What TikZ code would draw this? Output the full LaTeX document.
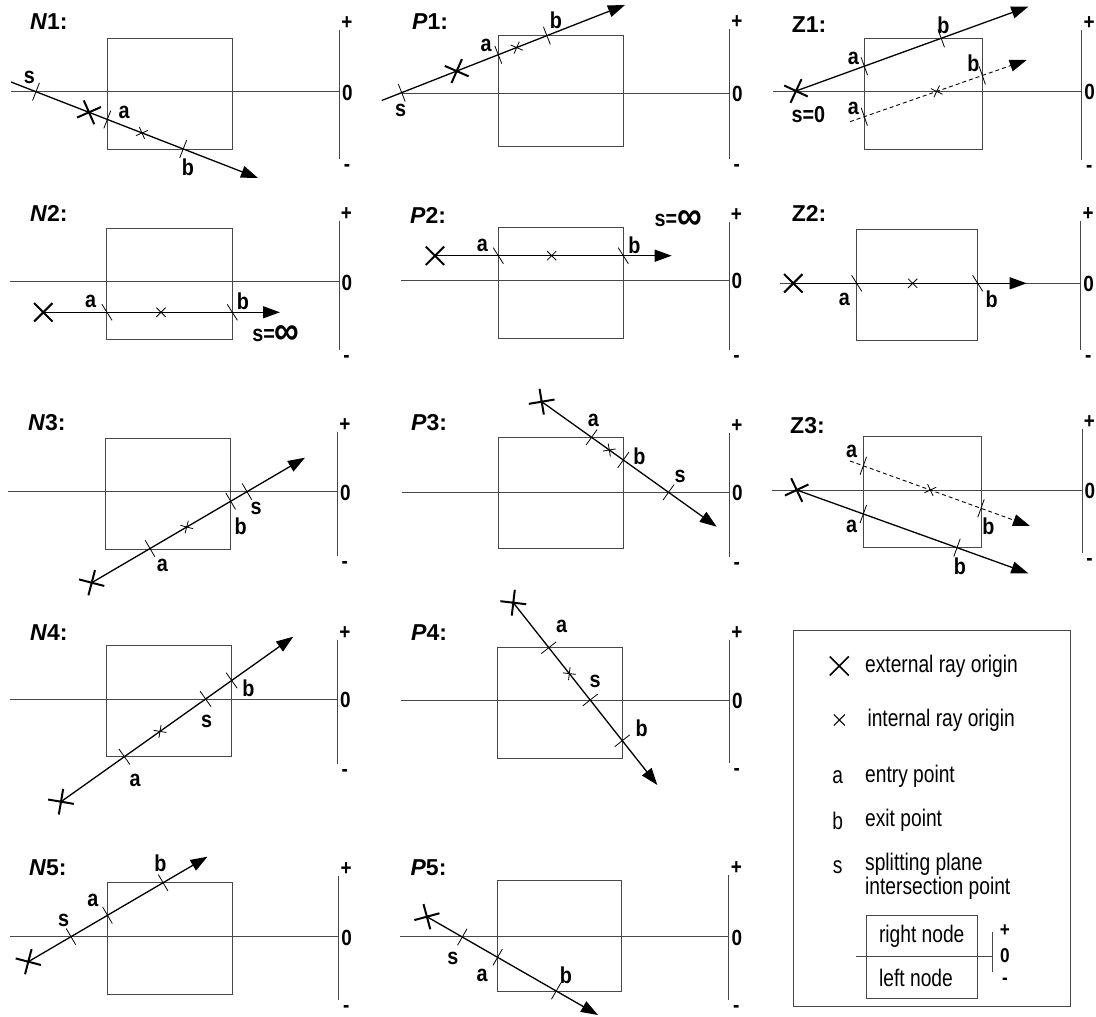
\documentclass[tikz,border=0pt]{standalone}
\usepackage{fontspec}
\setmainfont{Liberation Sans}
\newfontfamily\lblfont{Liberation Sans}[FakeStretch=0.86]
\newfontfamily\legfont{Liberation Sans}[FakeStretch=0.8]
\usetikzlibrary{arrows.meta}
\newcommand\mkX[3]{\draw[bigx,shift={(#1,#2)},rotate=#3] (-9.2pt,-9.2pt)--(9.2pt,9.2pt) (-9.2pt,9.2pt)--(9.2pt,-9.2pt);}
\newcommand\mkx[3]{\draw[smallx,shift={(#1,#2)},rotate=#3] (-4.6pt,-4.6pt)--(4.6pt,4.6pt) (-4.6pt,4.6pt)--(4.6pt,-4.6pt);}
\newcommand\mkt[3]{\draw[tickline,shift={(#1,#2)},rotate=#3] (-9.5pt,0)--(9.5pt,0);}
\newcommand\mkhl[3]{\draw[frame] (#1,#2) -- (#3,#2);}
\newcommand\mkbox[4]{\draw[frame] (#1,#2) rectangle (#3,#4);}
\newcommand\mkax[5]{%
  \draw[frame] (#2,#3) -- (#2,#4);
  \node[sgn] (#1p) at (#2+7.5,#3-7) {+};
  \node[sgn] (#1z) at (#2+8,#5+1) {0};
  \node[sgn] (#1m) at (#2+7.5,#4+9) {-};}
\newcommand\infsym{\raisebox{-2.5pt}{\scalebox{1.75}{∞}}}
\begin{document}
\begin{tikzpicture}[x=1pt,y=-1pt,
  frame/.style={draw=black!72,line width=1pt},
  ray/.style={line width=1.3pt,-{Triangle[length=17pt,width=12pt]}},
  dray/.style={line width=0.9pt,dash pattern=on 4pt off 3pt,-{Triangle[length=17pt,width=12pt]}},
  bigx/.style={line width=2pt},
  smallx/.style={line width=0.8pt},
  tickline/.style={line width=0.8pt},
  lbl/.style={font={\lblfont\fontsize{23}{24}\selectfont\bfseries},inner sep=0pt},
  sgn/.style={font={\lblfont\fontsize{22}{24}\selectfont\bfseries},inner sep=0pt},
  lsgn/.style={font={\lblfont\fontsize{20}{20}\selectfont\bfseries},inner sep=0pt},
  ttl/.style={font={\fontsize{23}{24}\selectfont\bfseries},inner sep=0pt,anchor=west},
  leg/.style={font={\legfont\fontsize{24}{24}\selectfont},inner sep=0pt,anchor=west},
  legl/.style={font={\legfont\fontsize{24}{24}\selectfont},inner sep=0pt}]
\useasboundingbox (0,0) rectangle (1096,1017);

% ---------------- Row 1 ----------------
% N1
\node[ttl] (tN1) at (30,21.5) {\textit{N}1:};
\mkhl{11}{91.7}{339.5}
\mkbox{107.3}{38.3}{232.7}{149.3}
\mkax{aN1}{339.5}{30}{159}{91.7}
\draw[ray] (11,82) -- (258,178);
\mkt{36}{91.7}{68.7}
\mkX{89}{112.3}{-21.3}
\mkt{107.3}{119.5}{68.7}
\mkx{142}{133}{-21.3}
\mkt{183.2}{149}{68.7}
\node[lbl] (lN1s) at (29.3,77.3) {s};
\node[lbl] (lN1a) at (124,112) {a};
\node[lbl] (lN1b) at (188,167) {b};
% P1
\node[ttl] (tP1) at (412,21.7) {\textit{P}1:};
\mkhl{401.7}{93}{729.3}
\mkbox{498.3}{35.7}{623.3}{146.7}
\mkax{aP1}{729.3}{29}{159}{93}
\draw[ray] (381.7,100.5) -- (625,5);
\mkt{401.7}{92.7}{-68.6}
\mkX{456.7}{71.1}{21.4}
\mkt{498.3}{54.8}{-68.6}
\mkx{516.7}{47.6}{21.4}
\mkt{546.9}{35.7}{-68.6}
\node[lbl] (lP1s) at (400.7,110) {s};
\node[lbl] (lP1a) at (486,45) {a};
\node[lbl] (lP1b) at (556,20) {b};
% Z1
\node[ttl] (tZ1) at (791.7,25) {Z1:};
\mkhl{773}{91}{1081.7}
\mkbox{864.3}{38.3}{982.3}{149.3}
\mkax{aZ1}{1081.7}{30}{160}{91}
\draw[ray] (796,91) -- (1028.3,6.7);
\mkX{796}{91}{19.95}
\mkt{864.3}{66.2}{-70}
\mkt{941.2}{38.3}{-70}
\draw[dray] (850,121.7) -- (1026.7,60);
\mkt{864.3}{116.7}{-70.8}
\mkx{936.7}{91.4}{19.2}
\mkt{982.3}{75.5}{-70.8}
\node[lbl] (lZ1s) at (808.3,115) {s=0};
\node[lbl] (lZ1a) at (853.3,58.3) {a};
\node[lbl] (lZ1b) at (943.3,25) {b};
\node[lbl] (lZ1a2) at (853.3,108.3) {a};
\node[lbl] (lZ1b2) at (973.3,63.3) {b};

% ---------------- Row 2 ----------------
% N2
\node[ttl] (tN2) at (30,213) {\textit{N}2:};
\mkhl{10}{281.7}{339}
\mkbox{106.7}{228.3}{232.3}{339}
\mkax{aN2}{339}{220.7}{350}{281.7}
\draw[ray] (43.3,312.3) -- (280,312.3);
\mkX{43.3}{312.3}{0}
\mkt{107}{312.3}{-57.6}
\mkx{161}{312.3}{0}
\mkt{232.3}{312.3}{-57.6}
\node[lbl] (lN2a) at (90.7,301.7) {a};
\node[lbl] (lN2b) at (243,301.7) {b};
\node[lbl] (lN2s) at (276,335) {s=\infsym};
% P2
\node[ttl] (tP2) at (410,215) {\textit{P}2:};
\mkhl{401}{280}{729}
\mkbox{498.3}{227.3}{623.3}{338.3}
\mkax{aP2}{729}{221.7}{350}{280}
\draw[ray] (435,255.7) -- (671.7,255.7);
\mkX{435}{255.7}{0}
\mkt{498.3}{255.7}{-57.6}
\mkx{551.7}{255.7}{0}
\mkt{623.3}{255.7}{-57.6}
\node[lbl] (lP2a) at (482.3,245) {a};
\node[lbl] (lP2b) at (634.3,245) {b};
\node[lbl] (lP2s) at (678.3,220) {s=\infsym};
% Z2
\node[ttl] (tZ2) at (791.7,213.3) {Z2:};
\mkhl{780}{283.3}{1080.7}
\mkbox{856.7}{229.3}{977.7}{340.7}
\mkax{aZ2}{1080.7}{220.7}{350}{283.3}
\draw[ray] (793.3,283.3) -- (1026.7,283.3);
\mkX{793.3}{283.3}{0}
\mkt{856.7}{283.3}{-57.6}
\mkx{912.7}{283.3}{0}
\mkt{977.7}{283.3}{-57.6}
\node[lbl] (lZ2a) at (844.3,299.3) {a};
\node[lbl] (lZ2b) at (991.7,299.3) {b};

% ---------------- Row 3 ----------------
% N3
\node[ttl] (tN3) at (28,423) {\textit{N}3:};
\mkhl{8.3}{491.7}{337.3}
\mkbox{105.7}{438.3}{230.7}{549.3}
\mkax{aN3}{337.3}{432.3}{556}{491.7}
\draw[ray] (91.7,582.7) -- (305,457.7);
\mkX{91.7}{582.7}{30.4}
\mkt{150}{548.5}{-59.6}
\mkx{186.7}{527}{30.4}
\mkt{230.7}{501.2}{-59.6}
\mkt{247}{491.7}{-59.6}
\node[lbl] (lN3a) at (162.3,565) {a};
\node[lbl] (lN3b) at (240.7,526.7) {b};
\node[lbl] (lN3s) at (256,508.3) {s};
% P3
\node[ttl] (tP3) at (411,423) {\textit{P}3:};
\mkhl{401.7}{492.3}{729.3}
\mkbox{498.3}{437.3}{623.3}{548.3}
\mkax{aP3}{729.3}{433.3}{556.7}{492.3}
\draw[ray] (541.7,401.7) -- (716.7,526.7);
\mkX{541.7}{401.7}{-35.5}
\mkt{591.6}{437.3}{54.5}
\mkx{609.3}{450}{-35.5}
\mkt{623.3}{460}{54.5}
\mkt{668.6}{492.3}{54.5}
\node[lbl] (lP3a) at (593.3,420.7) {a};
\node[lbl] (lP3b) at (639.3,456.7) {b};
\node[lbl] (lP3s) at (680,476) {s};
% Z3
\node[ttl] (tZ3) at (790,426) {Z3:};
\mkhl{771.7}{490}{1082}
\mkbox{863.3}{436.7}{981}{547.7}
\mkax{aZ3}{1082}{429.3}{553.3}{490}
\draw[ray] (796.7,490) -- (1028.3,573.3);
\mkX{796.7}{490}{-19.8}
\mkt{863.3}{514}{70.2}
\mkt{957}{547.7}{70.2}
\draw[dray] (850,461) -- (1030,526);
\mkt{863.3}{465.8}{70.1}
\mkx{930.3}{490}{-19.9}
\mkt{981}{508.3}{70.1}
\node[lbl] (lZ3a) at (851.7,526.7) {a};
\node[lbl] (lZ3b) at (960,566.7) {b};
\node[lbl] (lZ3a2) at (851.7,451.7) {a};
\node[lbl] (lZ3b2) at (988.3,526.7) {b};

% ---------------- Row 4 ----------------
% N4
\node[ttl] (tN4) at (30,633) {\textit{N}4:};
\mkhl{10}{699}{337.3}
\mkbox{106.7}{645.7}{231.7}{756.7}
\mkax{aN4}{337.3}{640}{764}{699}
\draw[ray] (61,801.7) -- (293.3,636.7);
\mkX{61}{801.7}{35.4}
\mkt{124.4}{756.7}{-54.6}
\mkx{160}{731.4}{35.4}
\mkt{205.6}{699}{-54.6}
\mkt{231.7}{680.5}{-54.6}
\node[lbl] (lN4a) at (135,780) {a};
\node[lbl] (lN4s) at (206.7,721.7) {s};
\node[lbl] (lN4b) at (248.3,688.3) {b};
% P4
\node[ttl] (tP4) at (411,633) {\textit{P}4:};
\mkhl{400.7}{700}{729.3}
\mkbox{497.7}{647.7}{622.3}{758.3}
\mkax{aP4}{729.3}{640}{762.7}{700}
\draw[ray] (513.3,602.7) -- (657.3,785);
\mkX{513.3}{602.7}{-51.7}
\mkt{548.8}{647.7}{38.3}
\mkx{569.3}{673.6}{-51.7}
\mkt{590.2}{700}{38.3}
\mkt{622.3}{740.7}{38.3}
\node[lbl] (lP4a) at (561.7,626.7) {a};
\node[lbl] (lP4s) at (595,681.7) {s};
\node[lbl] (lP4b) at (641.7,728.3) {b};

% ---------------- Row 5 ----------------
% N5
\node[ttl] (tN5) at (29,868) {\textit{N}5:};
\mkhl{10.4}{936.7}{338.7}
\mkbox{107.5}{882.7}{232.5}{994}
\mkax{aN5}{338.7}{876}{1000}{936.7}
\draw[ray] (28.3,961.7) -- (207.5,856.7);
\mkX{28.3}{961.7}{30.4}
\mkt{71}{936.7}{-59.6}
\mkt{107.5}{915.3}{-59.6}
\mkt{163.1}{882.7}{-59.6}
\node[lbl] (lN5s) at (63.7,920) {s};
\node[lbl] (lN5a) at (92.9,900) {a};
\node[lbl] (lN5b) at (160.4,863.3) {b};
% P5
\node[ttl] (tP5) at (410.4,868) {\textit{P}5:};
\mkhl{400}{936.7}{728.8}
\mkbox{497.6}{880}{621.7}{991}
\mkax{aP5}{728.8}{875}{1000}{936.7}
\draw[ray] (426.9,916.7) -- (598,1015);
\mkX{426.9}{916.7}{-29.9}
\mkt{462.3}{937}{60.1}
\mkt{497.6}{957.3}{60.1}
\mkt{556.2}{991}{60.1}
\node[lbl] (lP5s) at (452.8,958.3) {s};
\node[lbl] (lP5a) at (482,975) {a};
\node[lbl] (lP5b) at (566,975) {b};

% ---------------- Legend ----------------
\draw[frame] (793.3,630) rectangle (1070.7,1006.7);
\draw[bigx,line width=1.6pt,shift={(839.3,666)}] (-9.5pt,-9.5pt)--(9.5pt,9.5pt) (-9.5pt,9.5pt)--(9.5pt,-9.5pt);
\node[leg] (gX) at (865,666) {external ray origin};
\draw[smallx,line width=1pt,shift={(839.3,720)}] (-5.5pt,-5.5pt)--(5.5pt,5.5pt) (-5.5pt,5.5pt)--(5.5pt,-5.5pt);
\node[leg] (gx) at (867.3,720) {internal ray origin};
\node[legl] (ga) at (837.7,776.7) {a};
\node[leg] (gat) at (865,776) {entry point};
\node[legl] (gb) at (837.7,820.7) {b};
\node[leg] (gbt) at (865,820.7) {exit point};
\node[legl] (gs) at (837.7,866.7) {s};
\node[leg] (gst1) at (865,864) {splitting plane};
\node[leg] (gst2) at (865,888) {intersection point};
\draw[frame] (866.7,915.7) rectangle (977.3,998.3);
\draw[frame] (856,956.7) -- (992.7,956.7);
\draw[frame] (992.7,931.7) -- (992.7,971.7);
\node[lsgn] (gp) at (1005,930.7) {+};
\node[lsgn] (gz) at (1005,955.7) {0};
\node[lsgn] (gm) at (1005,981) {-};
\node[legl] (grn) at (921.7,936.7) {right node};
\node[legl] (gln) at (916,978.3) {left node};
\end{tikzpicture}
\end{document}
